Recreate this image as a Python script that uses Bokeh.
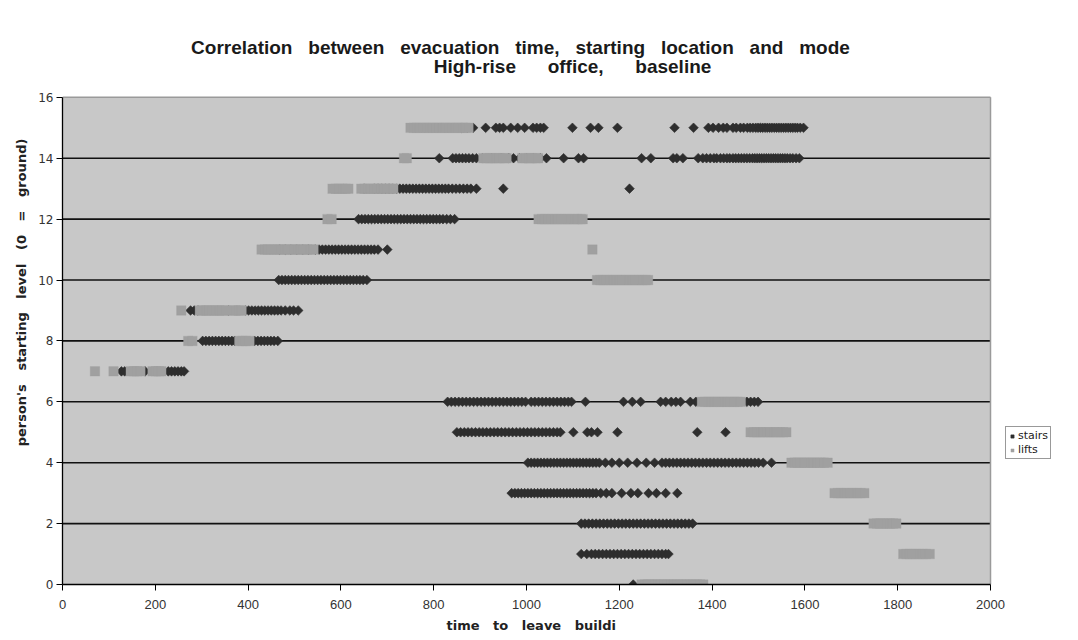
import numpy as np
from bokeh.plotting import figure
from bokeh.models import (Legend, LegendItem, FixedTicker, Range1d, Label, Title,
                          ColumnDataSource)
from bokeh.embed import file_html
from bokeh.resources import INLINE

# ---------------- data (time to leave building, s) per starting level -------------
levels = [15, 14, 13, 12, 11, 10, 9, 8, 7, 6, 5, 4, 3, 2, 1, 0]

stairs_15 = [860, 872, 885, 912, 934, 942, 950, 966, 981, 996, 1014, 1022, 1030, 1037,
             1099, 1138, 1155, 1196, 1319, 1360, 1392, 1402, 1414, 1424, 1432, 1445,
             1452, 1461, 1468, 1476, 1482, 1488, 1494, 1499, 1504, 1509, 1514, 1519,
             1524, 1529, 1534, 1539, 1544, 1549, 1554, 1559, 1564, 1569, 1574, 1579,
             1584, 1590, 1597]
lifts_15 = [750, 757, 764, 771, 778, 785, 792, 799, 806, 813, 820, 827, 834, 841, 848,
            855, 862, 869, 875]

stairs_14 = [812, 841, 848, 855, 862, 869, 876, 884, 892, 905, 925, 945, 962, 972, 985,
             1000, 1015, 1030, 1043, 1080, 1112, 1123, 1248, 1268, 1316, 1324, 1337,
             1370, 1380, 1388, 1396, 1404, 1410, 1418, 1425, 1432, 1438, 1445, 1451,
             1457, 1463, 1469, 1475, 1481, 1487, 1492, 1497, 1502, 1507, 1512, 1517,
             1522, 1527, 1532, 1537, 1542, 1547, 1552, 1557, 1562, 1568, 1574, 1581, 1588]
lifts_14 = [736, 742, 907, 914, 921, 928, 935, 942, 950, 957, 991, 998, 1005, 1012,
            1019, 1025]

stairs_13 = [650, 672, 680, 688, 696, 704, 712, 720, 727, 734, 741, 748, 755, 762, 769,
             776, 783, 790, 797, 804, 811, 818, 825, 832, 840, 848, 856, 864, 872, 880,
             892, 950, 1222]
lifts_13 = [582, 589, 596, 603, 610, 616, 644, 651, 658, 665, 672, 679, 686, 693, 700,
            707, 713]

stairs_12 = [638, 645, 652, 659, 666, 673, 680, 687, 694, 701, 708, 715, 722, 729, 736,
             743, 750, 757, 764, 771, 778, 785, 792, 799, 806, 813, 820, 828, 836, 845]
lifts_12 = [571, 580, 1026, 1033, 1040, 1047, 1054, 1061, 1068, 1075, 1082, 1089, 1096,
            1103, 1110, 1117, 1121]

stairs_11 = [468, 480, 492, 505, 518, 530, 545, 553, 560, 567, 574, 581, 588, 595, 602,
             609, 616, 623, 630, 637, 644, 651, 658, 665, 672, 680, 700]
lifts_11 = [429, 436, 443, 450, 457, 464, 471, 478, 485, 492, 499, 506, 513, 520, 527,
            534, 541, 1142]

stairs_10 = [466, 473, 480, 487, 494, 501, 508, 515, 522, 529, 536, 543, 550, 557, 564,
             571, 578, 585, 592, 599, 606, 613, 620, 627, 634, 641, 648, 656]
lifts_10 = [1152, 1159, 1166, 1173, 1180, 1187, 1194, 1201, 1208, 1215, 1222, 1229, 1236,
            1243, 1250, 1257, 1262]

stairs_9 = [276, 284, 292, 358, 394, 401, 408, 415, 422, 429, 436, 443, 450, 457, 464,
            471, 480, 490, 498, 508]
lifts_9 = [256, 296, 303, 310, 317, 324, 331, 338, 345, 352, 366, 373, 380, 386]

stairs_8 = [302, 309, 316, 323, 330, 337, 344, 351, 358, 365, 371, 414, 421, 428, 435,
            442, 449, 456, 464]
lifts_8 = [271, 280, 381, 388, 395, 403]

stairs_7 = [127, 134, 178, 228, 235, 242, 249, 256, 262]
lifts_7 = [70, 110, 147, 154, 161, 168, 194, 201, 208, 213]

stairs_6 = [830, 838, 846, 854, 862, 870, 878, 886, 894, 902, 910, 918, 926, 934, 942,
            950, 958, 966, 974, 982, 990, 998, 1010, 1018, 1026, 1034, 1042, 1050, 1058,
            1066, 1074, 1082, 1090, 1097, 1127, 1209, 1228, 1246, 1289, 1300, 1312, 1322,
            1332, 1353, 1365, 1475, 1483, 1491, 1499]
lifts_6 = [1378, 1385, 1392, 1399, 1406, 1413, 1420, 1427, 1434, 1441, 1448, 1455, 1462]

stairs_5 = [850, 858, 866, 874, 882, 890, 898, 906, 914, 922, 930, 938, 946, 954, 962,
            970, 978, 986, 994, 1002, 1010, 1018, 1026, 1034, 1042, 1050, 1058, 1066,
            1073, 1101, 1131, 1140, 1153, 1196, 1368, 1429]
lifts_5 = [1483, 1490, 1497, 1504, 1511, 1518, 1525, 1532, 1539, 1546, 1553, 1560]

stairs_4 = [1003, 1010, 1017, 1024, 1031, 1038, 1045, 1052, 1059, 1066, 1073, 1080, 1087,
            1094, 1101, 1108, 1115, 1122, 1129, 1136, 1143, 1150, 1157, 1170, 1184, 1200,
            1218, 1238, 1258, 1276, 1292, 1300, 1308, 1316, 1324, 1332, 1340, 1348, 1356,
            1364, 1372, 1380, 1388, 1396, 1404, 1412, 1420, 1428, 1436, 1444, 1452, 1460,
            1468, 1476, 1484, 1492, 1500, 1510, 1528]
lifts_4 = [1571, 1578, 1585, 1592, 1599, 1606, 1613, 1620, 1627, 1634, 1641, 1649]

stairs_3 = [968, 975, 982, 989, 996, 1003, 1010, 1017, 1024, 1031, 1038, 1045, 1052,
            1059, 1066, 1073, 1080, 1087, 1094, 1101, 1108, 1115, 1122, 1129, 1136, 1143,
            1150, 1160, 1172, 1184, 1205, 1225, 1240, 1263, 1280, 1300, 1325]
lifts_3 = [1664, 1671, 1678, 1685, 1692, 1699, 1706, 1713, 1720, 1728]

stairs_2 = [1118, 1126, 1134, 1142, 1150, 1158, 1166, 1174, 1182, 1190, 1198, 1206, 1214,
            1222, 1230, 1238, 1246, 1254, 1262, 1270, 1278, 1286, 1294, 1302, 1310, 1318,
            1326, 1334, 1342, 1350, 1358]
lifts_2 = [1748, 1755, 1762, 1769, 1776, 1783, 1790, 1797]

stairs_1 = [1118, 1130, 1140, 1148, 1156, 1164, 1172, 1180, 1188, 1196, 1204, 1212, 1220,
            1228, 1236, 1244, 1252, 1260, 1268, 1276, 1284, 1292, 1300, 1306]
lifts_1 = [1812, 1819, 1826, 1833, 1840, 1847, 1854, 1861, 1869]

stairs_0 = [1230]
lifts_0 = [1248, 1255, 1262, 1269, 1276, 1283, 1290, 1297, 1304, 1311, 1318, 1325, 1332,
           1339, 1346, 1353, 1360, 1367, 1374, 1381]

stairs_by_level = [stairs_15, stairs_14, stairs_13, stairs_12, stairs_11, stairs_10,
                   stairs_9, stairs_8, stairs_7, stairs_6, stairs_5, stairs_4, stairs_3,
                   stairs_2, stairs_1, stairs_0]
lifts_by_level = [lifts_15, lifts_14, lifts_13, lifts_12, lifts_11, lifts_10, lifts_9,
                  lifts_8, lifts_7, lifts_6, lifts_5, lifts_4, lifts_3, lifts_2, lifts_1,
                  lifts_0]

x_ticks = [0, 200, 400, 600, 800, 1000, 1200, 1400, 1600, 1800, 2000]
y_ticks = [0, 2, 4, 6, 8, 10, 12, 14, 16]
grid_levels = [2, 4, 6, 8, 10, 12, 14]
x_max, y_max = 2000, 16

G = "\u00a0"
title_1 = f"Correlation {G*2}between {G*2}evacuation {G*2}time, {G*2}starting {G*2}location {G*2}and {G*2}mode"
title_2 = f"High-rise {G*5}office, {G*5}baseline"
x_label = f"time {G*2}to {G*2}leave {G*2}buildi"
y_label = f"person's {G*2}starting {G*2}level {G*2}(0 {G*2}= {G*2}ground)"

# ---------------- build sources -------------
sx, sy = [], []
for lv, vals in zip(levels, stairs_by_level):
    sx += vals
    sy += [lv] * len(vals)
lx, ly = [], []
for lv, vals in zip(levels, lifts_by_level):
    lx += vals
    ly += [lv] * len(vals)

src_stairs = ColumnDataSource(dict(x=sx, y=sy))
src_lifts = ColumnDataSource(dict(x=lx, y=ly))

# ---------------- layout geometry (pixels) -------------
W, H = 1078, 640
LEFT, BOTTOM = 62, 55
PLOT_W, PLOT_H = 928, 488          # pixel size of the 0..2000 x 0..16 area
frame_w, frame_h = W - LEFT, H - BOTTOM
x_end = x_max * frame_w / PLOT_W
y_end = y_max * frame_h / PLOT_H

def px_to_x(px):
    return (px - LEFT) * x_max / PLOT_W

def py_to_y(py):
    return (frame_h - py) * y_max / PLOT_H

p = figure(width=W, height=H, output_backend="svg", toolbar_location=None,
           x_range=Range1d(0, x_end), y_range=Range1d(0, y_end),
           min_border_left=LEFT, min_border_right=0, min_border_top=0,
           min_border_bottom=BOTTOM)

p.background_fill_color = "white"
p.border_fill_color = "white"
p.outline_line_color = None
p.xgrid.grid_line_color = None
p.ygrid.grid_line_color = None

# plot area background, grid lines and border
p.quad(left=[0], right=[x_max], bottom=[0], top=[y_max], fill_color="#c8c8c8",
       line_color=None)
p.segment(x0=[0] * len(grid_levels), x1=[x_max] * len(grid_levels), y0=grid_levels,
          y1=grid_levels, line_color="#111111", line_width=1.6)
p.segment(x0=[0, x_max], x1=[x_max, x_max], y0=[y_max, 0], y1=[y_max, y_max],
          line_color="#9a9a9a", line_width=1.5)

r_st = p.scatter("x", "y", source=src_stairs, marker="square", angle=np.pi / 4,
                 size=6.8, fill_color="#2e2e2e", line_color="#2e2e2e", line_width=0.6)
r_li = p.scatter("x", "y", source=src_lifts, marker="square", size=9.5,
                 fill_color="#a0a0a0", line_color="#a0a0a0", line_width=0.3)

# axes
for ax in (p.xaxis, p.yaxis):
    ax.axis_line_color = "black"
    ax.axis_line_width = 1.3
    ax.major_tick_line_color = "black"
    ax.major_tick_out = 6
    ax.major_tick_in = 0
    ax.minor_tick_line_color = None
    ax.major_label_text_color = "#333333"

p.xaxis.bounds = (0, x_max)
p.yaxis.bounds = (0, y_max)
p.xaxis.ticker = FixedTicker(ticks=x_ticks)
p.yaxis.ticker = FixedTicker(ticks=y_ticks)
p.xaxis.major_label_text_font = "Liberation Sans"
p.xaxis.major_label_text_font_size = "13px"
p.yaxis.major_label_text_font = "DejaVu Sans"
p.yaxis.major_label_text_font_size = "12px"
p.xaxis.major_label_standoff = 9
p.yaxis.major_label_standoff = 3
p.yaxis.axis_label = y_label
p.yaxis.axis_label_standoff = 6
p.yaxis.axis_label_text_font_style = "bold"
p.yaxis.axis_label_text_color = "#222222"
p.yaxis.axis_label_text_font = "DejaVu Sans"
p.yaxis.axis_label_text_font_size = "13px"

# x-axis title, left-aligned under the 0..2000 part of the axis
p.add_layout(Title(text=x_label, align="left", offset=446 - LEFT,
                   vertical_align="top", standoff=12,
                   text_font="DejaVu Sans", text_font_size="13px",
                   text_font_style="bold", text_color="#222222"), "below")

# title lines (inside the widened frame, above the plot area)
for txt, cx, cy in ((title_1, 520, 47), (title_2, 572, 66)):
    p.add_layout(Label(x=px_to_x(cx), y=py_to_y(cy), text=txt, text_align="center",
                       text_baseline="middle", text_font="Liberation Sans",
                       text_font_size="19px", text_font_style="bold",
                       text_color="#1a1a1a"))

legend = Legend(items=[LegendItem(label="stairs", renderers=[r_st]),
                       LegendItem(label="lifts", renderers=[r_li])],
                location=(1005 - LEFT, frame_h - 460), orientation="vertical",
                label_text_font="DejaVu Sans", label_text_font_size="11px",
                label_text_color="#222222",
                glyph_width=8, glyph_height=12, label_height=12, label_standoff=2,
                padding=2, spacing=1, margin=0,
                border_line_color="#333333", border_line_width=1,
                background_fill_color="white")
p.add_layout(legend, "center")

open("out.html", "w").write(file_html(p, INLINE))
